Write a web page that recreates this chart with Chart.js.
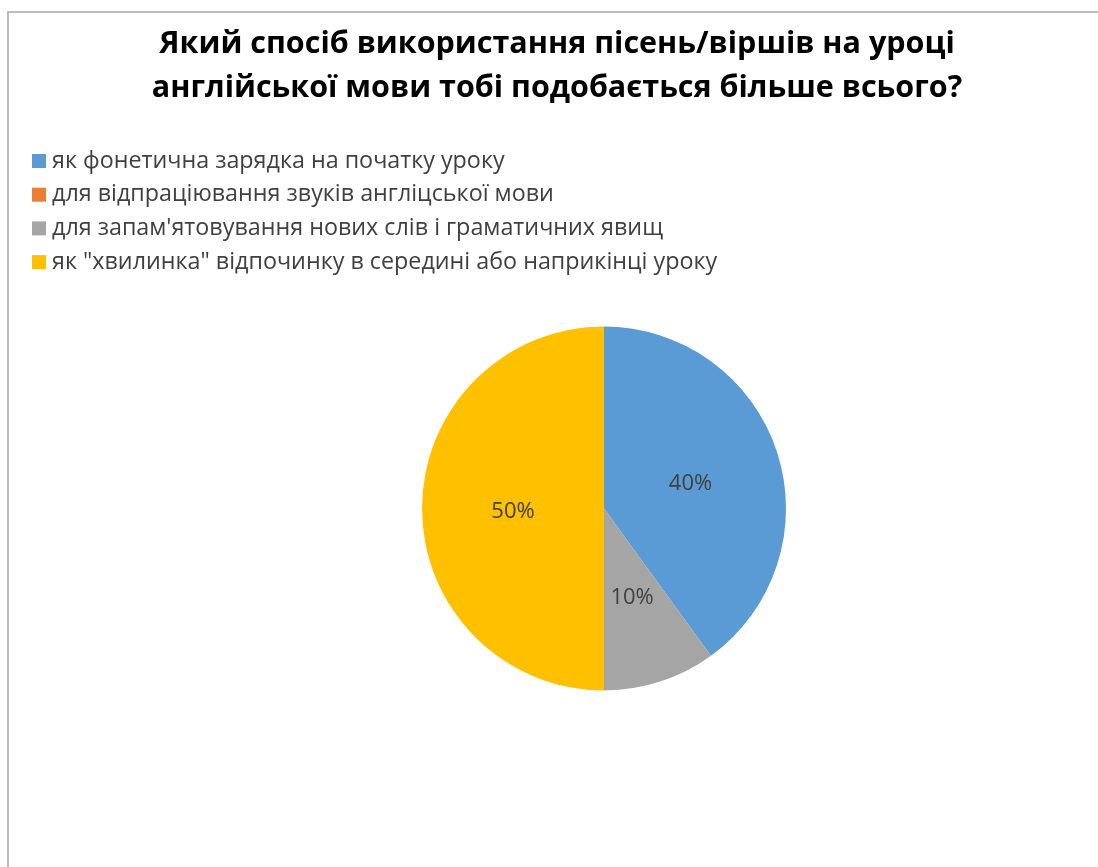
<!DOCTYPE html>
<html lang="uk">
<head>
<meta charset="utf-8">
<title>Пісні та вірші на уроці англійської мови</title>
<script src="https://cdn.jsdelivr.net/npm/chart.js@4/dist/chart.umd.min.js"></script>
<style>
  html, body { margin: 0; padding: 0; background: #ffffff; }
  #chart { display: block; }
</style>
</head>
<body>
<canvas id="chart" width="1098" height="867"></canvas>
<script>
// survey answers
const titleLines = [
  "Який спосіб використання пісень/віршів на уроці",
  "англійської мови тобі подобається більше всього?"
];
const answers = [
  "як фонетична зарядка на початку уроку",
  "для відпраціювання звуків англіцської мови",
  "для запам'ятовування нових слів і граматичних явищ",
  "як \"хвилинка\" відпочинку в середині або наприкінці уроку"
];
const shares = [40, 0, 10, 50];
const sliceColors = ["#5b9bd5", "#ed7d31", "#a5a5a5", "#ffc000"];

const FONT = "'Open Sans', 'Noto Sans', sans-serif";
const TEXT_GREY = "#404040";

// thin grey frame like the office chart area (top and left edge only are visible)
const frame = {
  id: "frame",
  beforeDraw(chart) {
    const ctx = chart.ctx;
    ctx.save();
    ctx.fillStyle = "#ffffff";
    ctx.fillRect(0, 0, chart.width, chart.height);
    ctx.strokeStyle = "#bcbcbc";
    ctx.lineWidth = 2;
    ctx.beginPath();
    ctx.moveTo(8, chart.height);
    ctx.lineTo(8, 12);
    ctx.lineTo(chart.width, 12);
    ctx.stroke();
    ctx.restore();
  }
};

// pie sits right of the title centre, so nudge the plot area after layout
const pieShift = {
  id: "pieShift",
  afterLayout(chart, args, opts) {
    const area = chart.chartArea;
    area.left += opts.dx;
    area.right += opts.dx;
  }
};

// one legend entry per line, top left
const stackedLegend = {
  id: "stackedLegend",
  afterDraw(chart, args, opts) {
    const ctx = chart.ctx;
    const ds = chart.data.datasets[0];
    ctx.save();
    ctx.font = opts.size + "px " + FONT;
    ctx.textBaseline = "middle";
    ctx.textAlign = "left";
    chart.data.labels.forEach((label, i) => {
      const y = opts.top + i * opts.step;
      ctx.fillStyle = ds.backgroundColor[i];
      ctx.fillRect(opts.left, y - opts.box / 2, opts.box, opts.box);
      ctx.fillStyle = TEXT_GREY;
      ctx.fillText(label, opts.left + opts.box + 6, y);
    });
    ctx.restore();
  }
};

// percentage labels at half radius
const sliceLabels = {
  id: "sliceLabels",
  afterDatasetsDraw(chart, args, opts) {
    const ctx = chart.ctx;
    const meta = chart.getDatasetMeta(0);
    const values = chart.data.datasets[0].data;
    const total = values.reduce((a, b) => a + b, 0);
    ctx.save();
    ctx.font = opts.size + "px " + FONT;
    ctx.fillStyle = TEXT_GREY;
    ctx.textAlign = "center";
    ctx.textBaseline = "middle";
    meta.data.forEach((arc, i) => {
      if (!values[i]) return;
      const p = arc.tooltipPosition();
      ctx.fillText(Math.round(values[i] / total * 100) + "%", p.x, p.y + 3);
    });
    ctx.restore();
  }
};

new Chart(document.getElementById("chart"), {
  type: "pie",
  data: {
    labels: answers,
    datasets: [{
      data: shares,
      backgroundColor: sliceColors,
      borderWidth: 0
    }]
  },
  options: {
    responsive: false,
    animation: false,
    layout: {
      padding: { top: 12, left: 16, right: 0, bottom: 176.5 }
    },
    plugins: {
      legend: { display: false },
      tooltip: { enabled: false },
      title: {
        display: true,
        text: titleLines,
        color: "#000000",
        font: { family: FONT, size: 30.5, weight: "bold", lineHeight: "44px" },
        padding: { top: 10, bottom: 216.5 }
      },
      pieShift: { dx: 47 },
      stackedLegend: { left: 32, top: 161, step: 33.7, box: 14, size: 23.3 },
      sliceLabels: { size: 22 }
    }
  },
  plugins: [frame, pieShift, stackedLegend, sliceLabels]
});
</script>
</body>
</html>
